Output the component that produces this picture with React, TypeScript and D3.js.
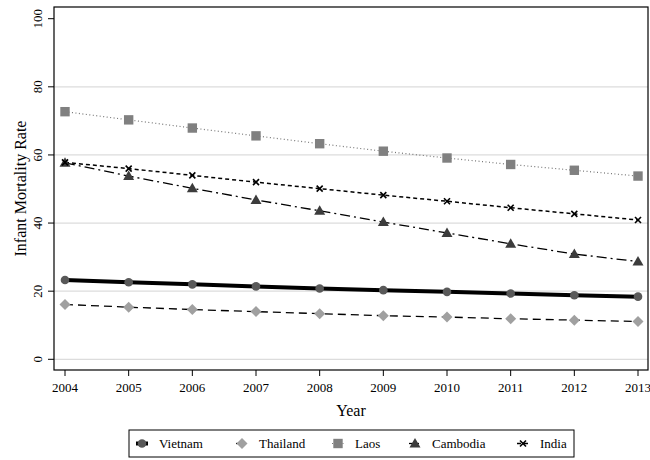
import React from "react";
import * as d3 from "d3";

const years = [2004, 2005, 2006, 2007, 2008, 2009, 2010, 2011, 2012, 2013];
const vietnam = [23.3, 22.6, 22.0, 21.4, 20.8, 20.3, 19.8, 19.3, 18.8, 18.4];
const thailand = [16.1, 15.3, 14.6, 14.0, 13.4, 12.8, 12.4, 11.9, 11.5, 11.1];
const laos = [72.7, 70.3, 67.9, 65.6, 63.3, 61.1, 59.1, 57.2, 55.5, 53.8];
const cambodia = [57.7, 53.8, 50.2, 46.8, 43.6, 40.3, 37.1, 33.9, 30.9, 28.7];
const india = [57.8, 56.0, 54.0, 52.0, 50.1, 48.2, 46.4, 44.5, 42.7, 40.9];
const yTicks = [0, 20, 40, 60, 80, 100];
const seriesNames = ["Vietnam", "Thailand", "Laos", "Cambodia", "India"];

const W = 650, H = 460;
const L = 54, R = 648, T = 7, B = 370;

const styles = [
  { values: vietnam, stroke: "#000", width: 4, dash: "", marker: "circle", fill: "#595959" },
  { values: thailand, stroke: "#000", width: 1.3, dash: "8,5", marker: "diamond", fill: "#a0a0a0" },
  { values: laos, stroke: "#777", width: 1.2, dash: "1,2.5", marker: "square", fill: "#808080" },
  { values: cambodia, stroke: "#000", width: 1.3, dash: "10,4,2,4", marker: "triangle", fill: "#3c3c3c" },
  { values: india, stroke: "#000", width: 1.5, dash: "4,3", marker: "x", fill: "#000" },
];

function Marker({ type, x, y, fill }: { type: string; x: number; y: number; fill: string }) {
  if (type === "circle") return <circle cx={x} cy={y} r={4.3} fill={fill} />;
  if (type === "diamond") {
    const s = 5.5;
    return <path d={`M${x},${y - s}L${x + s},${y}L${x},${y + s}L${x - s},${y}Z`} fill={fill} />;
  }
  if (type === "square") return <rect x={x - 4.7} y={y - 4.7} width={9.4} height={9.4} fill={fill} />;
  if (type === "triangle") {
    return <path d={`M${x},${y - 5.5}L${x + 5.5},${y + 4}L${x - 5.5},${y + 4}Z`} fill={fill} />;
  }
  const s = 3;
  return (
    <g stroke={fill} strokeWidth={1.6}>
      <line x1={x - s} y1={y - s} x2={x + s} y2={y + s} />
      <line x1={x - s} y1={y + s} x2={x + s} y2={y - s} />
    </g>
  );
}

export default function App() {
  const x = d3.scaleLinear().domain([2004, 2013]).range([65, 638]);
  const y = d3.scaleLinear().domain([0, 100]).range([359.3, 18.7]);
  const line = d3.line<number>().x((_, i) => x(years[i])).y((d) => y(d));
  const font = "Liberation Serif, Times New Roman, serif";
  const legendX = [142, 242, 338, 415, 523];
  return (
    <svg width={W} height={H} style={{ position: "absolute", left: 0, top: 0 }} fontFamily={font}>
      <rect width={W} height={H} fill="#fff" />
      {yTicks.filter((t) => t < 100).map((t) => (
        <line key={t} x1={L} x2={R} y1={y(t)} y2={y(t)} stroke="#dcdcdc" strokeWidth={1.2} />
      ))}
      {styles.map((s, i) => (
        <path key={i} d={line(s.values) || ""} fill="none" stroke={s.stroke} strokeWidth={s.width} strokeDasharray={s.dash} />
      ))}
      {styles.map((s, i) =>
        s.values.map((v, j) => <Marker key={`${i}-${j}`} type={s.marker} x={x(years[j])} y={y(v)} fill={s.fill} />)
      )}
      <rect x={L} y={T} width={R - L} height={B - T} fill="none" stroke="#000" strokeWidth={1.2} />
      {yTicks.map((t) => (
        <g key={t}>
          <line x1={L - 6} x2={L} y1={y(t)} y2={y(t)} stroke="#000" />
          <text transform={`translate(42,${y(t)}) rotate(-90)`} textAnchor="middle" fontSize={13}>{t}</text>
        </g>
      ))}
      {years.map((yr) => (
        <g key={yr}>
          <line x1={x(yr)} x2={x(yr)} y1={B} y2={B + 6} stroke="#000" />
          <text x={x(yr)} y={392} textAnchor="middle" fontSize={13}>{yr}</text>
        </g>
      ))}
      <text x={(L + R) / 2} y={416} textAnchor="middle" fontSize={16}>Year</text>
      <text transform={`translate(26,${(T + B) / 2}) rotate(-90)`} textAnchor="middle" fontSize={16}>Infant Mortality Rate</text>
      <rect x={129} y={430} width={445} height={27} fill="#fff" stroke="#000" strokeWidth={1} />
      {styles.map((s, i) => (
        <g key={i}>
          <line x1={legendX[i] - 6} x2={legendX[i] + 6} y1={443.5} y2={443.5} stroke={s.stroke} strokeWidth={s.width} strokeDasharray={s.dash} />
          <Marker type={s.marker} x={legendX[i]} y={443.5} fill={s.fill} />
          <text x={legendX[i] + 17} y={448} fontSize={13}>{seriesNames[i]}</text>
        </g>
      ))}
    </svg>
  );
}
